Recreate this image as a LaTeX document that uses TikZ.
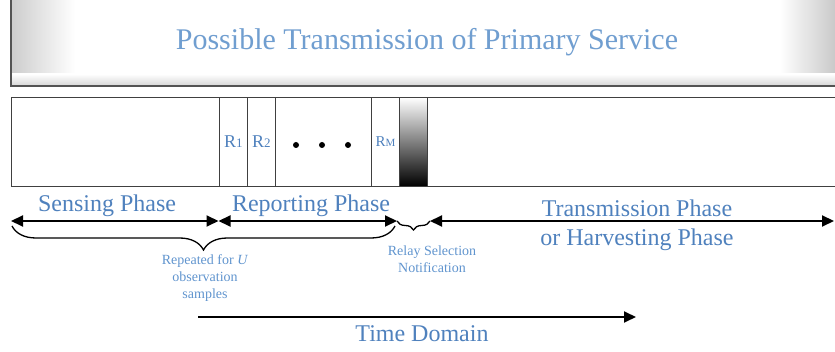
\documentclass[tikz,border=0pt]{standalone}
\usepackage{fontspec}
\setmainfont{Liberation Serif}
\usetikzlibrary{arrows.meta,decorations.pathreplacing}
\definecolor{phaseblue}{RGB}{79,129,189}
\definecolor{titleblue}{RGB}{112,158,208}
\definecolor{noteblue}{RGB}{96,148,206}
\tikzset{
  phase/.style={text=phaseblue, font=\fontsize{24}{29}\selectfont, inner sep=0pt},
  note/.style={text=noteblue, font=\fontsize{14}{17}\selectfont, align=center, inner sep=0pt},
  slot/.style={draw=black!75, line width=0.8pt, minimum width=28pt, minimum height=89pt, inner sep=0pt, anchor=north west, text=phaseblue},
  span/.style={{Triangle[length=12pt,width=11pt]}-{Triangle[length=12pt,width=11pt]}, line width=2pt},
  curly/.style={decorate, decoration={brace, mirror, amplitude=#1}, line width=1.3pt},
}
\begin{document}
\begin{tikzpicture}[x=1pt, y=-1pt]
\useasboundingbox (0,0) rectangle (835,352);
% Primaerdienst
\begin{scope}
\clip (0,0) rectangle (835,352);
\fill[white] (11,-5) rectangle (845,86);
\shade[left color=gray!40, right color=white] (11,-5) rectangle (75,86);
\shade[left color=white, right color=gray!50] (780,-5) rectangle (845,86);
\shade[top color=white, bottom color=gray!30] (11,74) rectangle (845,85);
\draw[gray!65!black, line width=1.2pt] (11,-5) rectangle (845,86);
% Rahmen
\draw[black!75, line width=0.8pt] (11,97) rectangle (845,186);
\end{scope}
\node[text=titleblue, font=\fontsize{30}{32}\selectfont] (title) at (427,42) {Possible Transmission of Primary Service};
% Slots
\node[slot] (r1) at (219,97) {\fontsize{18}{18}\selectfont R\fontsize{13}{13}\selectfont 1};
\node[slot] (r2) at (247,97) {\fontsize{18}{18}\selectfont R\fontsize{13}{13}\selectfont 2};
\node[slot] (rm) at (371,97) {\fontsize{15}{15}\selectfont R\fontsize{11}{11}\selectfont M};
\node[slot, top color=white, bottom color=black] (notify) at (399,97) {};
% Punkte
\fill (296,145) circle (3);
\fill (322,145) circle (3);
\fill (348,145) circle (3);
% Phasen
\coordinate (s0) at (11,221);
\coordinate (s1) at (218.5,221);
\coordinate (s2) at (397,221);
\coordinate (s3) at (430,221);
\coordinate (s4) at (834,221);
\draw[span] (s0) -- (s1);
\draw[span] (s1) -- (s2);
\draw[span] (s3) -- (s4);
\draw[curly=24pt] (12,226) -- (395,226);
\draw[curly=9pt] (s2) -- (s3);
% Beschriftung
\node[phase] (sensing) at (107,206) {Sensing Phase};
\node[phase] (reporting) at (311,206) {Reporting Phase};
\node[phase, align=center] (transmission) at (637,225) {Transmission Phase\\or Harvesting Phase};
\node[note] (repeated) at (205,278) {Repeated for \textit{U}\\observation\\samples};
\node[note] (relaysel) at (432,259) {Relay Selection\\Notification};
% Zeitachse
\coordinate (t0) at (198,317);
\coordinate (t1) at (636,317);
\draw[-{Triangle[length=12pt,width=11pt]}, line width=1.8pt] (t0) -- (t1);
\node[phase] (time) at (422,334) {Time Domain};
\end{tikzpicture}
\end{document}
